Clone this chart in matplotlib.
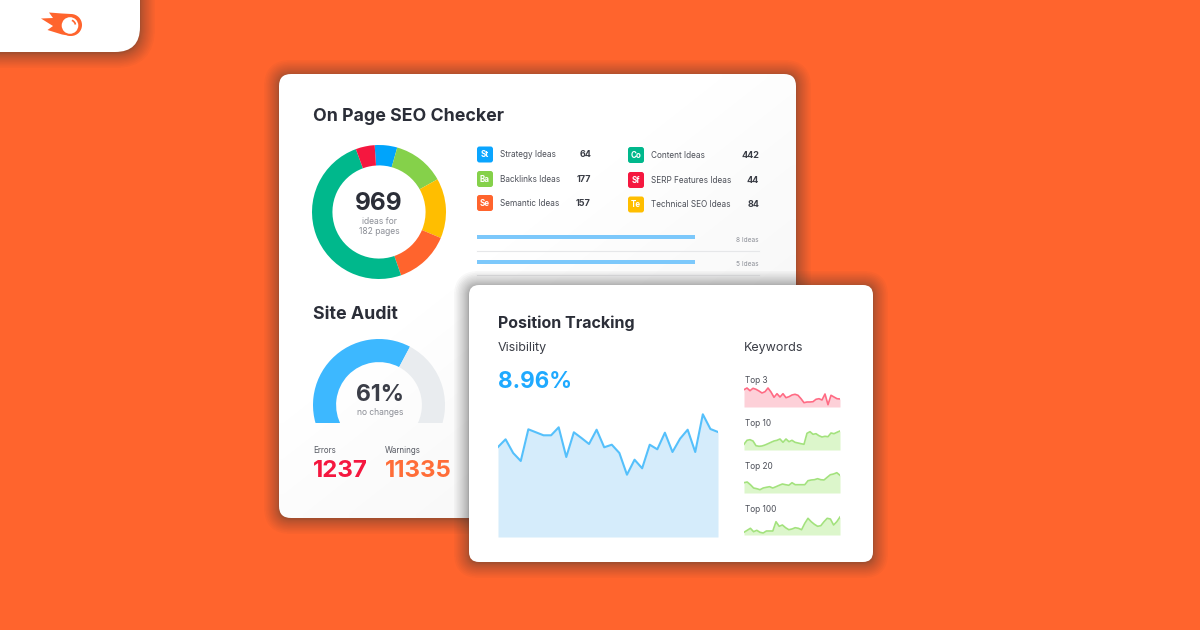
import matplotlib
matplotlib.use('Agg')
import matplotlib.pyplot as plt
import matplotlib.patches as mpatches
import numpy as np

plt.rcParams['font.family'] = ['Inter', 'Noto Sans', 'DejaVu Sans']

# donut arcs in degrees, clockwise from the blue slice
donut_arcs = [19.5, 45, 52, 48, 179, 16.5]
donut_colors = ['#00a4fb', '#85d14a', '#ffbe00', '#ff642d', '#00b88c', '#f5173f']
# gauge arcs, the bottom part falls outside the axes and is clipped
gauge_arcs = [148, 92, 120]
gauge_colors = ['#3db8ff', '#e9ecef', 'none']

idea_tags_left = ['St', 'Ba', 'Se']
idea_names_left = ['Strategy Ideas', 'Backlinks Ideas', 'Semantic Ideas']
idea_values_left = [64, 177, 157]
idea_colors_left = ['#0aa5ff', '#85d14a', '#ff642d']
idea_tags_right = ['Co', 'Sf', 'Te']
idea_names_right = ['Content Ideas', 'SERP Features Ideas', 'Technical SEO Ideas']
idea_values_right = [442, 44, 84]
idea_colors_right = ['#00b88c', '#f5173f', '#ffbe00']

page_bars = [1.0, 1.0]
page_bar_labels = ['8 Ideas', '5 Ideas']

visibility = [90, 97.7, 84, 76, 107.7, 104.7, 101.7, 101.7, 109.7, 80, 104.7, 99, 93, 107.3, 89.7,
              92.3, 84, 62.3, 77.3, 68.7, 92.3, 87.7, 104.3, 85, 98.3, 107.3, 85, 122.7, 108, 105]

top3 = [17.3, 19, 16.3, 18.7, 17.7, 16, 14, 15.3, 19, 15, 9.7, 13.3, 10, 13.3, 9.3, 10.3, 12,
        12.7, 11.7, 8.3, 4.3, 5, 5, 5.3, 7.7, 8.3, 7, 13, 2.3, 11.7, 10, 8.3, 8]
top10 = [5.7, 9.7, 10.3, 9, 4.3, 3.7, 4, 5, 6.3, 7.7, 9, 9.7, 11, 7.7, 11, 8.3, 9.7, 7.7, 7, 6.3,
         5.7, 16.7, 18.3, 15.7, 16.3, 14.3, 13, 13.7, 13.3, 17, 16.3, 17.7, 19]
top20 = [10.3, 11, 8.3, 5, 4.3, 3.3, 5, 5.7, 6.3, 5, 6.3, 7.7, 9, 8.3, 7.7, 10.3, 8.3, 8.3, 8.3,
         8.3, 12.3, 13, 13.3, 14.3, 13.3, 13, 15.7, 18.3, 19, 20.3, 17.7]
top100 = [2.7, 4.7, 6.7, 3.3, 4.7, 2.7, 2, 4, 4, 4, 13.3, 8.7, 10, 7.3, 5.3, 6, 7.3, 6.7, 5.3,
          11.7, 16.7, 13.3, 10.7, 8.7, 9.3, 13.3, 16.7, 16, 10, 13.3, 18]
spark_labels = ['Top 3', 'Top 10', 'Top 20', 'Top 100']

BG = '#ff642d'
DARK = '#2b2e38'
GREY = '#8b8e96'

fig = plt.figure(figsize=(12, 6.3), dpi=100, facecolor=BG)
ax = fig.add_axes([0, 0, 1, 1])
ax.set_xlim(0, 1200)
ax.set_ylim(630, 0)
ax.axis('off')


def px_axes(x0, y0, x1, y1, z=5):
    a = fig.add_axes([x0 / 1200, 1 - y1 / 630, (x1 - x0) / 1200, (y1 - y0) / 630], zorder=z)
    a.axis('off')
    a.patch.set_alpha(0)
    return a


def card(x0, y0, x1, y1, r, z):
    # layers bunch up near the edge so the shadow fades out softly
    for k in range(16, 0, -1):
        i = 15 * (k / 16) ** 1.8
        s = mpatches.FancyBboxPatch((x0 - i, y0 - i + 1), x1 - x0 + i * 2, y1 - y0 + i * 2,
                                    boxstyle='round,pad=0,rounding_size=%f' % (r + i),
                                    fc='#3c3c3c', ec='none', alpha=.035, zorder=z)
        ax.add_patch(s)
    c = mpatches.FancyBboxPatch((x0, y0), x1 - x0, y1 - y0, boxstyle='round,pad=0,rounding_size=%f' % r,
                                fc='white', ec='none', zorder=z + .1)
    ax.add_patch(c)
    return c


def label(x, y, s, size, color=DARK, weight='normal', ha='left', z=8):
    ax.text(x, y + size * .1, s, fontsize=size * .72, color=color, fontweight=weight, ha=ha, va='center', zorder=z)


# logo tab
card(-40, -40, 140, 52, 25, 2)
tail = [(49, 12.5), (62, 13.5), (71, 14), (71, 36), (62, 34.5), (47.5, 30), (53, 26), (41, 18.5), (53, 18)]
ax.add_patch(mpatches.Polygon(tail, fc=BG, ec='none', zorder=3))
ax.add_patch(mpatches.Circle((71, 25), 11, fc=BG, ec='none', zorder=3))
ax.add_patch(mpatches.Circle((70, 25.5), 8.3, fc='white', ec='none', zorder=3.1))
ax.add_patch(mpatches.Arc((70, 25.5), 11, 11, theta1=-70, theta2=-10, ec=BG, lw=1.2, zorder=3.2))

# first card with its soft grey corner
c1 = card(279, 74, 796, 518, 12, 2.5)
shade = np.zeros((60, 60, 4))
yy, xx = np.mgrid[0:1:60j, 0:1:60j]
shade[..., :3] = .55
shade[..., 3] = np.clip(.55 * xx + .6 * yy - .45, 0, 1) * .16
im = ax.imshow(shade, extent=(279, 796, 518, 74), zorder=2.7, aspect='auto', interpolation='bilinear')
im.set_clip_path(c1)
ax.set_xlim(0, 1200)
ax.set_ylim(630, 0)

label(313, 115, 'On Page SEO Checker', 17.8, weight='bold')

d = px_axes(379 - 67, 212 - 67, 379 + 67, 212 + 67, 3)
d.pie(donut_arcs, colors=donut_colors, startangle=93.7, counterclock=False, radius=1,
      wedgeprops=dict(width=.305, ec='none'))
d.set_xlim(-1, 1)
d.set_ylim(-1, 1)
label(379, 201, '969', 24.5, weight='bold', ha='center')
label(379, 220.5, 'ideas for', 8.5, GREY, ha='center')
label(379, 230.5, '182 pages', 8.5, GREY, ha='center')

rows_left = [154.5, 179, 203]
rows_right = [155, 180, 204.5]
for tags, names, vals, cols, rows, x0, x1 in [
        (idea_tags_left, idea_names_left, idea_values_left, idea_colors_left, rows_left, 477, 591),
        (idea_tags_right, idea_names_right, idea_values_right, idea_colors_right, rows_right, 628, 759)]:
    for t, n, v, col, y in zip(tags, names, vals, cols, rows):
        ax.add_patch(mpatches.FancyBboxPatch((x0, y - 8), 16, 16, boxstyle='round,pad=0,rounding_size=2.5',
                                             fc=col, ec='none', zorder=6))
        label(x0 + 8, y - .5, t, 8, 'white', 'bold', ha='center')
        label(x0 + 23, y - .5, n, 8.2, '#4c4f58')
        label(x1, y - .5, str(v), 9, '#3a3d46', 'bold', ha='right')

b = px_axes(477, 233, 759, 270, 6)
b.barh([0, 1], page_bars, height=.16, color='#7cc8fb')
b.set_xlim(0, 282 / 218)
b.set_ylim(1.32, -.16)
for y, s in zip([239.5, 263.5], page_bar_labels):
    label(759, y, s, 6.5, GREY, ha='right')
for y in [251, 274.5]:
    ax.plot([477, 759], [y, y], color='#e6e7e9', lw=.8, zorder=6)

label(313, 312.5, 'Site Audit', 17.8, weight='bold')
g = px_axes(379 - 66, 339, 379 + 66, 423, 3)
g.pie(gauge_arcs, colors=gauge_colors, startangle=210, counterclock=False, radius=1,
      wedgeprops=dict(width=.35, ec='none', clip_on=True))
g.set_aspect('auto')
g.set_xlim(-1, 1)
g.set_ylim(-18 / 66, 1)
label(380, 392.5, '61%', 23, '#3b3e48', 'bold', ha='center')
label(380, 412, 'no changes', 8.5, GREY, ha='center')
label(313, 449.5, 'Errors', 8, '#555861')
label(385, 449.5, 'Warnings', 8, '#555861')
label(313, 469, '1237', 24, '#f5173f', 'bold')
label(385, 469, '11335', 24, '#ff6d38', 'bold')

# second card
card(469, 285, 873, 562, 10, 8)
label(498, 321.5, 'Position Tracking', 16, weight='bold', z=10)
label(498, 347, 'Visibility', 12.5, '#3a3d46', z=10)
label(744, 347, 'Keywords', 12.5, '#3a3d46', z=10)
label(498, 379.5, '8.96%', 22.5, '#1faaff', 'bold', z=10)

v = px_axes(498, 411, 718, 537, 12)
xs = np.arange(len(visibility))
v.fill_between(xs, visibility, 0, color='#d5ecfb', lw=0)
v.plot(xs, visibility, color='#55c0fb', lw=1.5)
v.set_xlim(0, len(visibility) - 1)
v.set_ylim(0, 126)

spark_series = [top3, top10, top20, top100]
spark_line = ['#ff6b84', '#a3e27d', '#a3e27d', '#a3e27d']
spark_fill = ['#fdd0d8', '#dcf6cb', '#dcf6cb', '#dcf6cb']
spark_base = [407, 450, 493, 535]
spark_text = [379.5, 422.5, 465.5, 508.5]
for name, vals, lc, fc, base, ty in zip(spark_labels, spark_series, spark_line, spark_fill, spark_base, spark_text):
    s = px_axes(744, base - 24, 840, base, 12)
    xs = np.arange(len(vals))
    s.fill_between(xs, vals, 0, color=fc, lw=0)
    s.plot(xs, vals, color=lc, lw=1.2)
    s.set_xlim(0, len(vals) - 1)
    s.set_ylim(0, 24)
    label(745, ty, name, 8.3, '#4c4f58', z=10)

fig.savefig('out.png', dpi=100, facecolor=BG)
